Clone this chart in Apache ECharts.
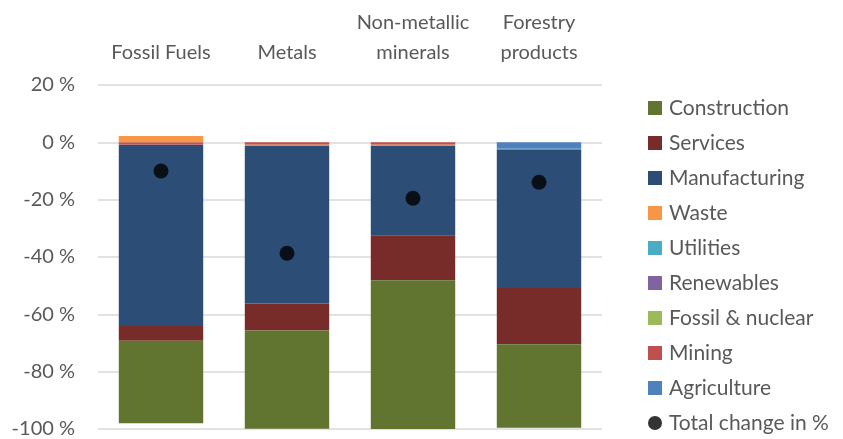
<!DOCTYPE html>
<html>
<head>
<meta charset="utf-8">
<script src="https://cdn.jsdelivr.net/npm/echarts@6/dist/echarts.min.js"></script>
<style>
  html, body { margin: 0; padding: 0; background: #fff; }
  #chart { width: 843px; height: 439px; }
</style>
</head>
<body>
<div id="chart"></div>
<script>
// Resource categories (shown along the top)
const categories = ['Fossil Fuels', 'Metals', 'Non-metallic\nminerals', 'Forestry\nproducts'];

// Sector contributions, % change per resource
const agriculture   = [0, 0, 0, -2.2];
const mining        = [-0.8, -0.8, -0.8, 0];
const fossilNuclear = [0, 0, 0, 0];
const renewables    = [-0.1, 0, 0, 0];
const utilities     = [0, 0, 0, -0.3];
const waste         = [2.2, -0.4, -0.4, 0];
const manufacturing = [-63.2, -55.0, -31.2, -48.3];
const services      = [-5.1, -9.4, -15.7, -19.6];
const construction  = [-28.8, -34.3, -51.9, -29.2];

// Overall change per resource
const totalChange = [-10.0, -38.7, -19.5, -13.9];

// Y axis range and step
const yMin = -100, yMax = 20, yStep = 20;

const sectors = [
  { name: 'Agriculture', data: agriculture, color: '#4f81bd' },
  { name: 'Mining', data: mining, color: '#c0504d' },
  { name: 'Fossil & nuclear', data: fossilNuclear, color: '#9bbb59' },
  { name: 'Renewables', data: renewables, color: '#8064a2' },
  { name: 'Utilities', data: utilities, color: '#4bacc6' },
  { name: 'Waste', data: waste, color: '#f79646' },
  { name: 'Manufacturing', data: manufacturing, color: '#2c4d75' },
  { name: 'Services', data: services, color: '#772c2a' },
  { name: 'Construction', data: construction, color: '#617530' }
];

const font = 'Lato, "Open Sans", sans-serif';
const textColor = '#595959';

const series = sectors.map(s => ({
  name: s.name,
  type: 'bar',
  stack: 'total',
  data: s.data,
  barCategoryGap: '33%',
  itemStyle: { color: s.color },
  emphasis: { disabled: true }
}));
series.push({
  name: 'Total change in %',
  type: 'scatter',
  data: totalChange,
  symbol: 'circle',
  symbolSize: 15,
  itemStyle: { color: '#000' },
  z: 5
});

const legendOrder = sectors.slice().reverse().map(s => ({ name: s.name, icon: 'rect' }));
legendOrder.push({ name: 'Total change in %', icon: 'circle' });

const chart = echarts.init(document.getElementById('chart'), null, { renderer: 'canvas' });
chart.setOption({
  animation: false,
  backgroundColor: '#fff',
  grid: { left: 98, right: 241, top: 85, bottom: 6, containLabel: false },
  legend: {
    orient: 'vertical',
    left: 643,
    top: 92,
    height: 400,
    data: legendOrder,
    itemWidth: 14,
    itemHeight: 14,
    itemGap: 13,
    selectedMode: false,
    textStyle: { fontFamily: font, fontSize: 21, color: textColor, lineHeight: 22, padding: [0, 0, 0, 2] }
  },
  xAxis: {
    type: 'category',
    position: 'top',
    data: categories,
    axisLine: { show: false },
    axisTick: { show: false },
    axisLabel: {
      fontFamily: font, fontSize: 20, color: textColor,
      lineHeight: 30, margin: 17, interval: 0
    }
  },
  yAxis: {
    type: 'value',
    min: yMin,
    max: yMax,
    interval: yStep,
    axisLine: { show: false },
    axisTick: { show: false },
    splitLine: { lineStyle: { color: '#d9d9d9', width: 1.5 } },
    axisLabel: {
      fontFamily: font, fontSize: 20, color: textColor, margin: 23,
      formatter: '{value} %'
    }
  },
  series: series
});
</script>
</body>
</html>
